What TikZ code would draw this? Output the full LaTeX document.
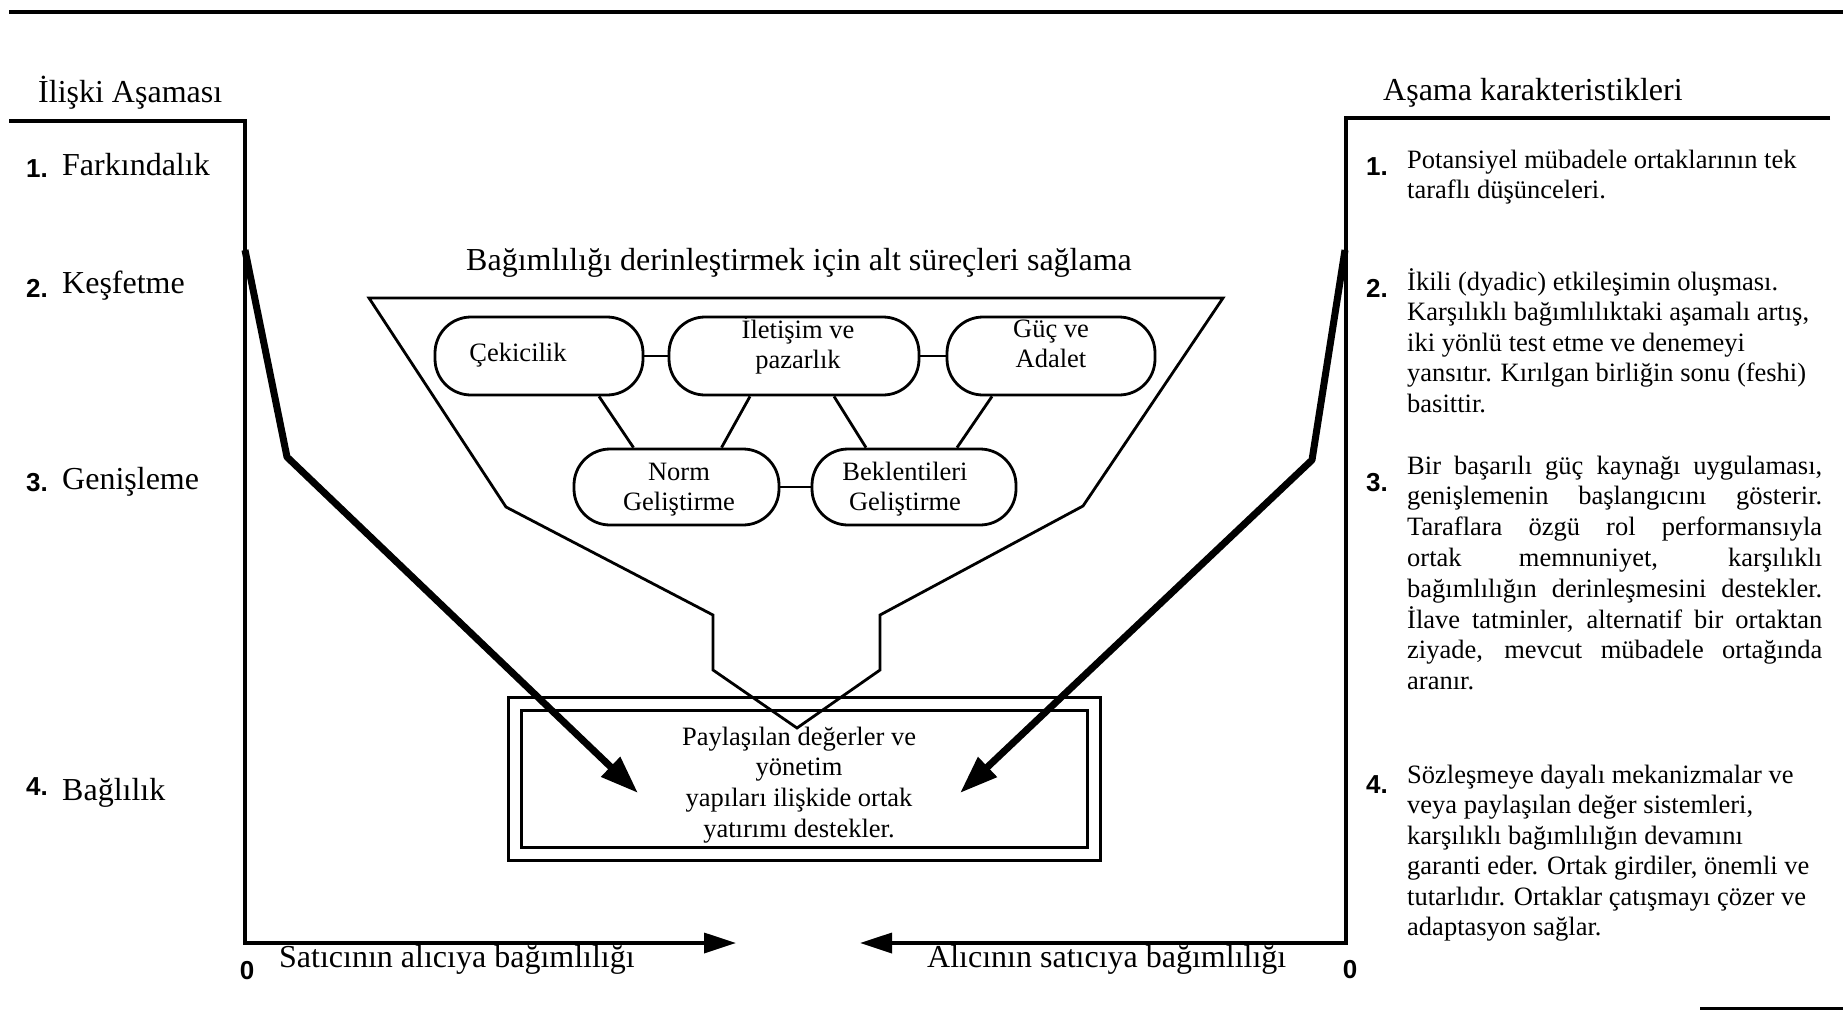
\documentclass[tikz,border=0pt]{standalone}
\usepackage{fontspec}
\setmainfont{Liberation Serif}
\newfontfamily\numfont{Liberation Sans}
\usetikzlibrary{arrows.meta}

\newcommand{\twoline}[2][240pt]{\parbox[t]{#1}{\centering #2}}
\newcommand{\leftblock}[1]{\parbox[t]{460pt}{\raggedright #1}}

\tikzset{
  bigtext/.style={font=\fontsize{32}{36}\selectfont, inner sep=0pt},
  bodytext/.style={font=\fontsize{26.5}{30.5}\selectfont, inner sep=0pt},
  numtext/.style={font=\numfont\bfseries\fontsize{26}{30}\selectfont, inner sep=0pt},
  frameline/.style={line width=3.5pt, line join=miter},
  axisarrow/.style={frameline, -{Triangle[length=32pt,width=20pt]}},
  funnelline/.style={line width=2.8pt, line join=miter},
  nodebox/.style={draw, line width=2.8pt, rounded corners=36pt, inner sep=0pt},
  link/.style={line width=2.8pt},
  trendline/.style={line width=7pt, line join=round, -{Triangle[length=38pt,width=26pt]}},
}

\begin{document}
\begin{tikzpicture}[x=1pt,y=-1pt]
\useasboundingbox (0,0) rectangle (1843,1010);
\fill[white] (0,0) rectangle (1843,1010);

% page rules
\draw[line width=4.5pt] (9,12) -- (1843,12);
\draw[line width=3pt] (1700,1008) -- (1843,1008);

% headings
\node[bigtext, anchor=base west] (stagehead) at (38,102) {İlişki Aşaması};
\node[bigtext, anchor=base west] (charhead) at (1383,100) {Aşama karakteristikleri};
\node[bigtext, anchor=base] (subhead) at (799,270) {Bağımlılığı derinleştirmek için alt süreçleri sağlama};

% stage names on the left
\node[numtext, anchor=base west] (n1) at (26,177) {1.};
\node[bigtext, anchor=base west] (s1) at (62,175) {Farkındalık};
\node[numtext, anchor=base west] (n2) at (26,297) {2.};
\node[bigtext, anchor=base west] (s2) at (62,293) {Keşfetme};
\node[numtext, anchor=base west] (n3) at (26,491) {3.};
\node[bigtext, anchor=base west] (s3) at (62,489) {Genişleme};
\node[numtext, anchor=base west] (n4) at (26,795) {4.};
\node[bigtext, anchor=base west] (s4) at (62,800) {Bağlılık};

% stage characteristics on the right
\node[numtext, anchor=base west] (m1) at (1366,175) {1.};
\node[bodytext, anchor=base west] (c1) at (1407,168)
  {\leftblock{Potansiyel mübadele ortaklarının tek\\ taraflı düşünceleri.}};
\node[numtext, anchor=base west] (m2) at (1366,297) {2.};
\node[bodytext, anchor=base west] (c2) at (1407,290)
  {\leftblock{İkili (dyadic) etkileşimin oluşması.\\ Karşılıklı bağımlılıktaki aşamalı artış,\\ iki yönlü test etme ve denemeyi\\ yansıtır. Kırılgan birliğin sonu (feshi)\\ basittir.}};
\node[numtext, anchor=base west] (m3) at (1366,491) {3.};
\node[bodytext, anchor=base west] (c3) at (1407,474)
  {\parbox[t]{415pt}{\fontsize{26.5}{30.8}\selectfont\tolerance=10000\hyphenpenalty=10000
   Bir başarılı güç kaynağı uygulaması,\linebreak
   genişlemenin başlangıcını gösterir.\linebreak
   Taraflara özgü rol performansıyla\linebreak
   ortak memnuniyet, karşılıklı\linebreak
   bağımlılığın derinleşmesini destekler.\linebreak
   İlave tatminler, alternatif bir ortaktan\linebreak
   ziyade, mevcut mübadele ortağında\linebreak
   aranır.}};
\node[numtext, anchor=base west] (m4) at (1366,793) {4.};
\node[bodytext, anchor=base west] (c4) at (1407,783)
  {\leftblock{Sözleşmeye dayalı mekanizmalar ve\\ veya paylaşılan değer sistemleri,\\ karşılıklı bağımlılığın devamını\\ garanti eder. Ortak girdiler, önemli ve\\ tutarlıdır. Ortaklar çatışmayı çözer ve\\ adaptasyon sağlar.}};

% shared-values box
\node[draw, double, double distance=10pt, line width=3pt, minimum width=579pt,
      minimum height=150.5pt, inner sep=0pt] (share) at (804,779) {};
\node[bodytext, anchor=base] (sharetext) at (799,745)
  {\parbox[t]{380pt}{\centering\fontsize{26.5}{30.7}\selectfont
   Paylaşılan değerler ve\\ yönetim\\ yapıları ilişkide ortak\\ yatırımı destekler.}};

% funnel of sub-processes
\draw[funnelline] (369,298) -- (1223,298) -- (1083,506) -- (880,615) -- (880,670)
  -- (797,728) -- (713,670) -- (713,615) -- (506,507) -- cycle;

% sub-process nodes
\node[nodebox, minimum width=208pt, minimum height=78pt] (cek) at (539,356) {};
\node[nodebox, minimum width=250pt, minimum height=78pt] (ilet) at (794,356) {};
\node[nodebox, minimum width=208pt, minimum height=78pt] (guc) at (1051,356) {};
\node[nodebox, minimum width=205pt, minimum height=76pt] (norm) at (676.5,487) {};
\node[nodebox, minimum width=204pt, minimum height=76pt] (bek) at (914,487) {};

\node[bodytext, anchor=base] (cekT) at (518,361) {Çekicilik};
\node[bodytext, anchor=base] (iletT) at (798,338) {\twoline{İletişim ve\\ pazarlık}};
\node[bodytext, anchor=base] (gucT) at (1051,337) {\twoline{Güç ve\\ Adalet}};
\node[bodytext, anchor=base] (normT) at (679,480) {\twoline{Norm\\ Geliştirme}};
\node[bodytext, anchor=base] (bekT) at (905,480) {\twoline{Beklentileri\\ Geliştirme}};

% links between sub-processes
\draw[link] (cek.east) -- (ilet.west);
\draw[link] (ilet.east) -- (guc.west);
\draw[link] (norm.east) -- (bek.west);
\draw[link] ([xshift=60pt]cek.south) -- ([xshift=-43pt]norm.north);
\draw[link] ([xshift=-44pt]ilet.south) -- ([xshift=45pt]norm.north);
\draw[link] ([xshift=40pt]ilet.south) -- ([xshift=-48pt]bek.north);
\draw[link] ([xshift=-59pt]guc.south) -- ([xshift=43pt]bek.north);

% dependence frames and axes
\coordinate (ltop) at (9,121);
\coordinate (lcorner) at (245,121);
\coordinate (lorigin) at (245,943);
\coordinate (laxisend) at (736,943);
\coordinate (rtop) at (1830,118);
\coordinate (rcorner) at (1346,118);
\coordinate (rorigin) at (1346,943);
\coordinate (raxisend) at (860,943);
\draw[axisarrow] (ltop) -- (lcorner) -- (lorigin) -- (laxisend);
\draw[axisarrow] (rtop) -- (rcorner) -- (rorigin) -- (raxisend);

\node[numtext, anchor=base] (zl) at (247,979) {0};
\node[numtext, anchor=base] (zr) at (1350,978) {0};
\node[bigtext, anchor=base west] (sellerdep) at (279,967) {Satıcının alıcıya bağımlılığı};
\node[bigtext, anchor=base west] (buyerdep) at (927,967) {Alıcının satıcıya bağımlılığı};

% deepening dependence paths
\coordinate (lstart) at (245,250);
\coordinate (lkink) at (287,457);
\coordinate (ltip) at (638,793);
\coordinate (rstart) at (1345,250);
\coordinate (rkink) at (1312,460);
\coordinate (rtip) at (960,793);
\draw[trendline] (lstart) -- (lkink) -- (ltip);
\draw[trendline] (rstart) -- (rkink) -- (rtip);
\end{tikzpicture}
\end{document}
